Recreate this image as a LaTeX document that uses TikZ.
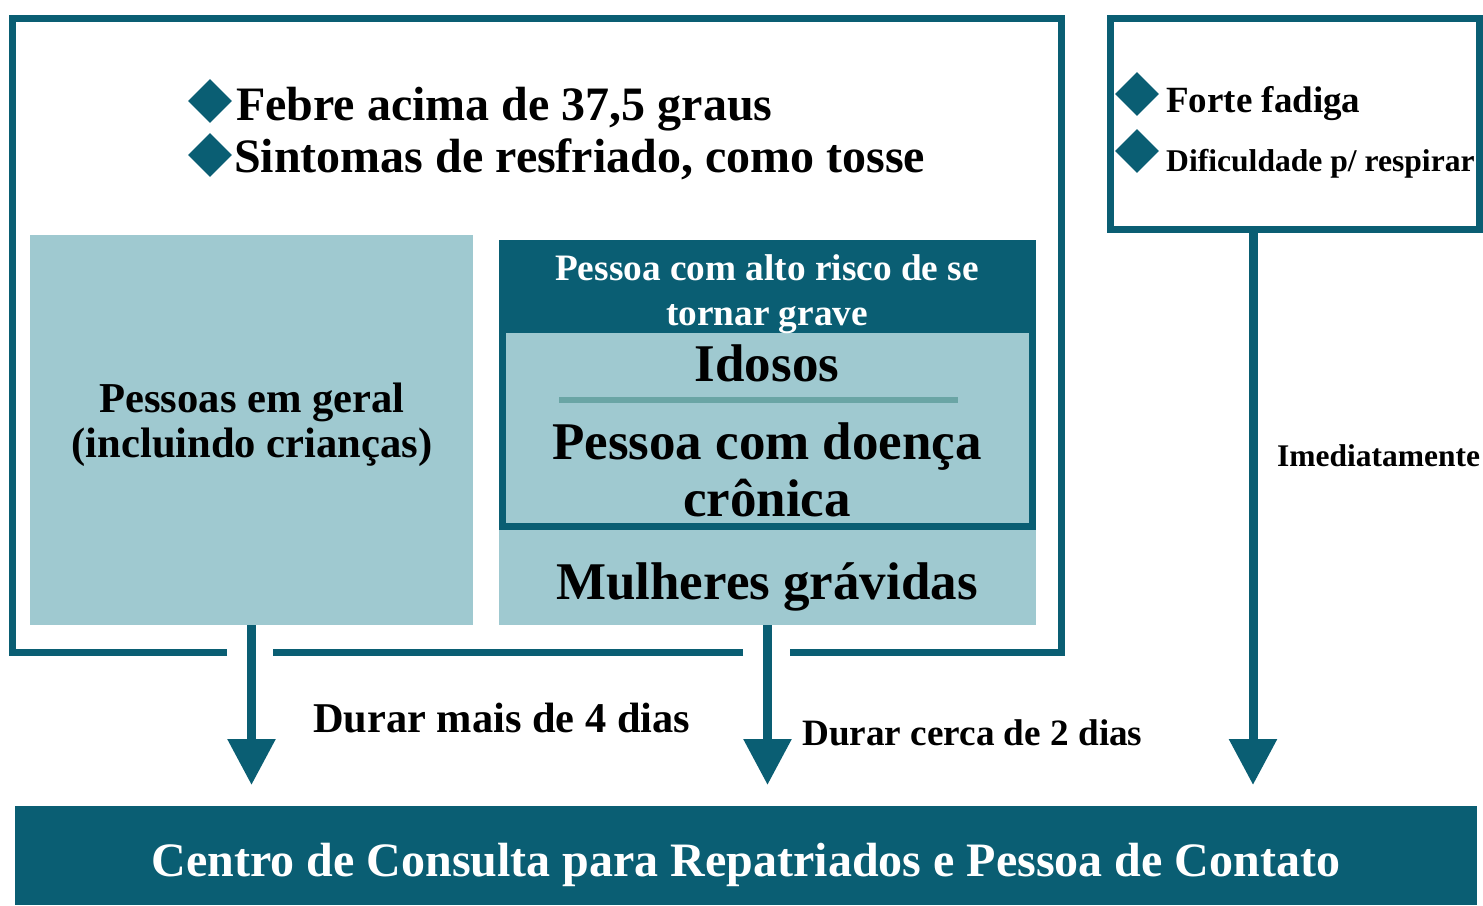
\documentclass[tikz,border=0pt]{standalone}
\usepackage{fontspec}
\setmainfont{Liberation Serif}
\usetikzlibrary{arrows.meta, positioning, shapes.geometric}
\definecolor{covteal}{HTML}{0A5E73}
\definecolor{covlight}{HTML}{9FC9D0}
\definecolor{covrule}{HTML}{6AA5A5}
\newcommand{\bsize}[2]{\fontsize{#1}{#2}\selectfont\bfseries}

\begin{document}
\begin{tikzpicture}[x=1pt, y=-1pt,
  frame/.style={line width=7pt, covteal},
  panel/.style={fill=covlight, inner sep=0pt, outer sep=0pt, anchor=north west},
  bullet/.style={diamond, fill=covteal, inner sep=0pt, minimum size=44pt},
  flow/.style={line width=9pt, covteal, -{Triangle[width=46pt, length=46pt]}, shorten >=21pt}]
  \useasboundingbox (0,0) rectangle (1483,905);
  % outer frame, open where the arrows leave
  \draw[frame, line join=miter] (227,652) -- (12,652) -- (12,18) -- (1061,18) -- (1061,652) -- (790,652);
  \draw[frame] (743,652) -- (273,652);
  % symptoms
  \node[bullet] (b1) at (210,101) {};
  \node[anchor=base west, inner sep=0pt, font=\bsize{48}{52}] (febre) at (236,120) {Febre acima de 37,5 graus};
  \node[bullet] (b2) at (210,155) {};
  \node[anchor=base west, inner sep=0pt, font=\bsize{48}{52}] (sint) at (234,172) {Sintomas de resfriado, como tosse};
  % general public
  \node[panel, minimum width=443pt, minimum height=390pt] (geral) at (30,235) {};
  \node[align=center, font=\bsize{42.6}{45}] (geraltxt) at (252,425) {Pessoas em geral\\(incluindo crianças)};
  % high risk group
  \node[panel, fill=covteal, minimum width=537pt, minimum height=92pt] (risco) at (499,240) {};
  \node[panel, draw=covteal, line width=7pt, minimum width=530pt, minimum height=197pt] (doenca) at (502.5,329.5) {};
  \node[align=center, text=white, font=\bsize{37.3}{45}] (riscotxt) at (767,294) {Pessoa com alto risco de se\\tornar grave};
  \node[font=\bsize{53}{55}] (idosos) at (767,363) {Idosos};
  \draw[covrule, line width=6pt] (559,400) -- (958,400);
  \node[align=center, font=\bsize{53}{57}] (doencatxt) at (767,470) {Pessoa com doença\\crônica};
  \node[panel, minimum width=537pt, minimum height=95pt] (gravidas) at (499,530) {};
  \node[font=\bsize{53}{55}] (gravidastxt) at (767,587) {Mulheres grávidas};
  % severe symptoms
  \node[frame, draw, inner sep=0pt, outer sep=0pt, minimum width=369pt, minimum height=211pt] (grave) at (1294.5,123.5) {};
  \node[bullet] (b3) at (1137,94) {};
  \node[anchor=base west, inner sep=0pt, font=\bsize{37}{40}] (fadiga) at (1166,112) {Forte fadiga};
  \node[bullet] (b4) at (1137,151) {};
  \node[anchor=base west, inner sep=0pt, font=\bsize{31.6}{34}] (resp) at (1166,171) {Dificuldade p/ respirar};
  % consultation centre
  \node[panel, fill=covteal, minimum width=1462pt, minimum height=99pt] (centro) at (15,806) {};
  \node[text=white, font=\bsize{48}{52}] (centrotxt) at (746,865) {Centro de Consulta para Repatriados e Pessoa de Contato};
  % arrows
  \coordinate (imtop) at (1253,227);
  \draw[flow] (geral.south) -- (geral.south |- centro.north);
  \draw[flow] (gravidas.south) -- (gravidas.south |- centro.north);
  \draw[flow] (imtop) -- (imtop |- centro.north);
  \node[anchor=base west, inner sep=0pt, font=\bsize{42.4}{45}] (dias4) at (313,732) {Durar mais de 4 dias};
  \node[anchor=base west, inner sep=0pt, font=\bsize{37.2}{40}] (dias2) at (802,745) {Durar cerca de 2 dias};
  \node[anchor=base west, inner sep=0pt, font=\bsize{31.5}{34}] (imed) at (1277,466) {Imediatamente};
\end{tikzpicture}
\end{document}
